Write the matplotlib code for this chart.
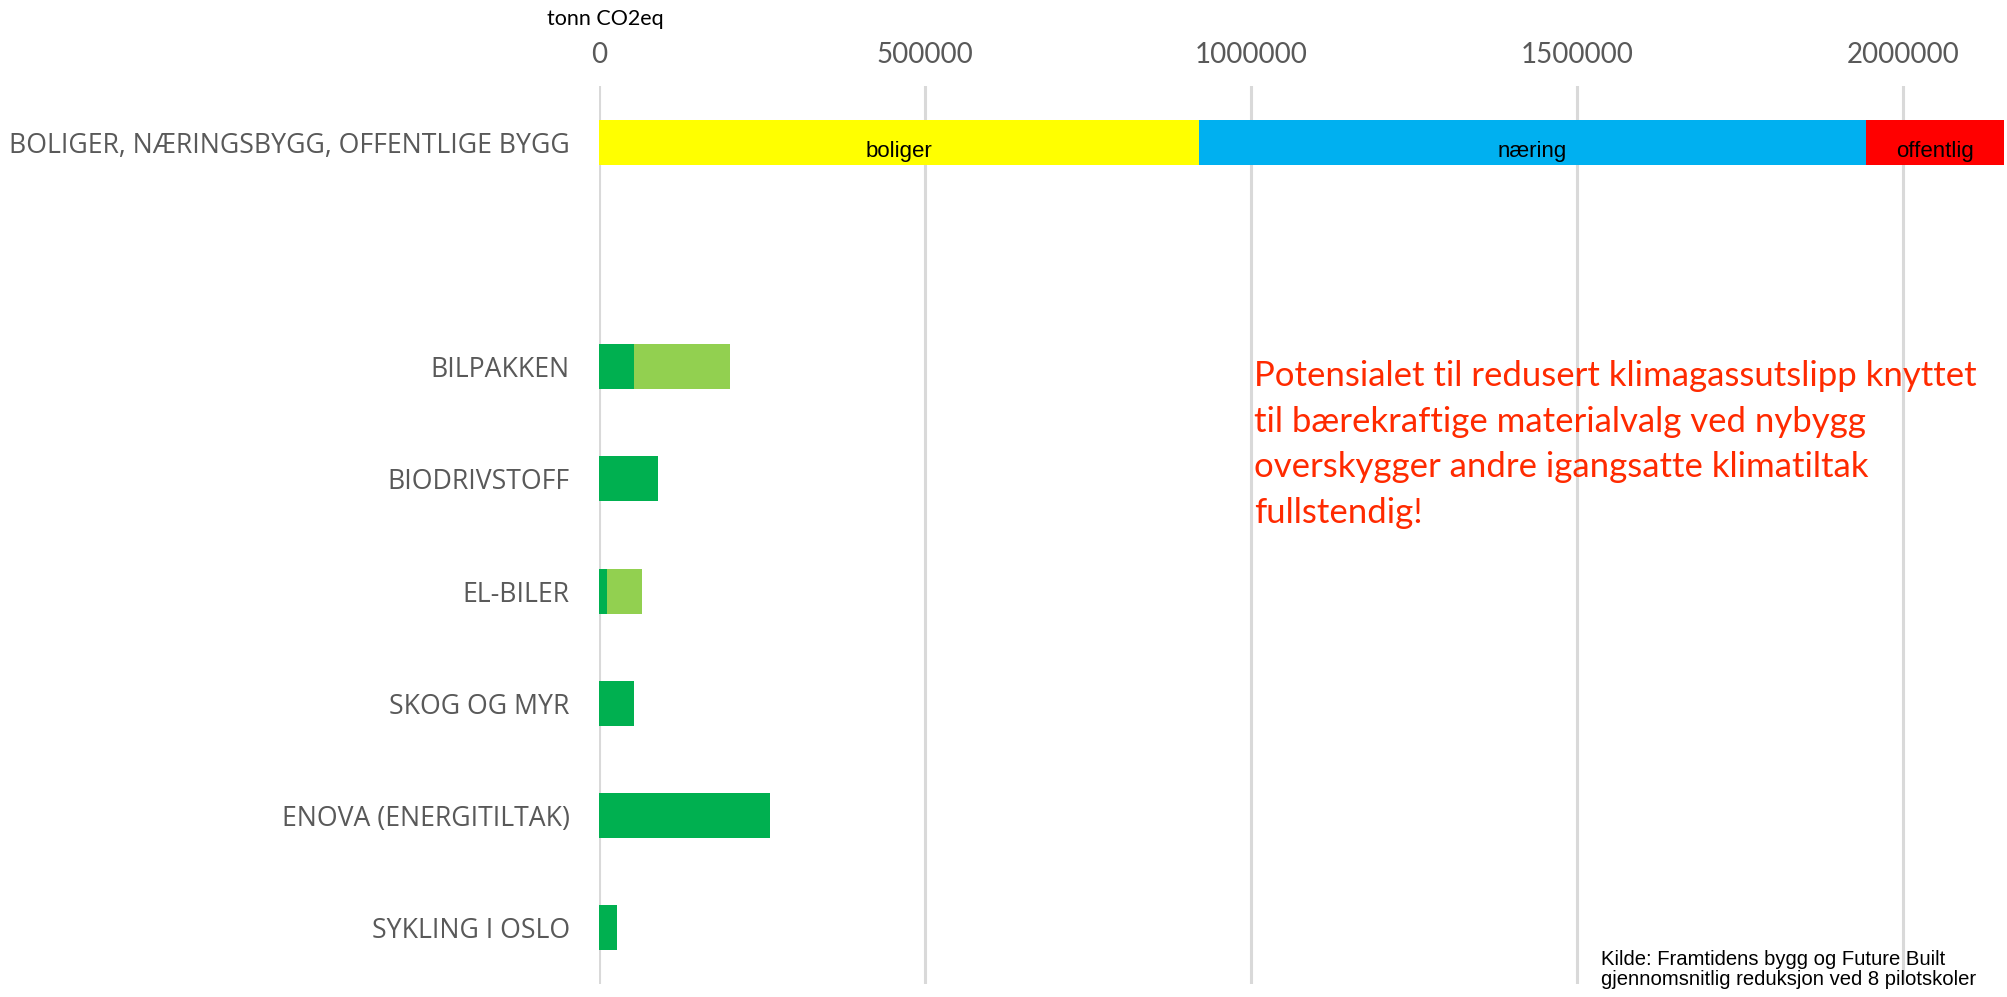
import matplotlib.pyplot as plt

# Data (tonn CO2eq)
building_segments = ["boliger", "næring", "offentlig"]
building_values = [920000, 1023000, 212000]
building_colors = ["#FFFF00", "#00B0F0", "#FF0000"]

measures = ["BILPAKKEN", "BIODRIVSTOFF", "EL-BILER", "SKOG OG MYR",
            "ENOVA (ENERGITILTAK)", "SYKLING I OSLO"]
measure_base = [53000, 91000, 12000, 54000, 263000, 28000]
measure_extra = [148000, 0, 54000, 0, 0, 0]

xticks = [0, 500000, 1000000, 1500000, 2000000]

GRAY = "#595959"
DARK_GREEN = "#00B050"
LIGHT_GREEN = "#92D050"

W, H = 2007, 997
fig = plt.figure(figsize=(W / 100, H / 100), dpi=100)
ax = fig.add_axes([599 / W, 1 - 984 / H, 1 - 599 / W, (984 - 86) / H])

# stacked top bar
left = 0
top_y = 0.5
for name, val, col in zip(building_segments, building_values, building_colors):
    ax.barh(top_y, val, left=left, height=0.4, color=col, zorder=2)
    ax.text(left + val / 2, top_y + 0.08, name, ha="center", va="center",
            fontsize=16, family="Liberation Sans", color="black", zorder=3)
    left += val

# climate measures (one empty slot below the building bar)
ys = [2.5 + i for i in range(len(measures))]
ax.barh(ys, measure_base, height=0.4, color=DARK_GREEN, zorder=2)
ax.barh(ys, measure_extra, left=measure_base, height=0.4, color=LIGHT_GREEN, zorder=2)

ax.set_xlim(0, 2160000)
ax.set_ylim(8, 0)
ax.set_yticks([top_y] + ys)
ax.set_yticklabels(["BOLIGER, NÆRINGSBYGG, OFFENTLIGE BYGG"] + measures,
                   fontsize=19.2, family="Open Sans", color=GRAY)
ax.set_xticks(xticks)
ax.set_xticklabels([str(v) for v in xticks], fontsize=20, family="Lato", color=GRAY)
ax.xaxis.tick_top()
ax.tick_params(axis="both", length=0)
ax.tick_params(axis="x", pad=13)
ax.tick_params(axis="y", pad=21)
for s in ax.spines.values():
    s.set_visible(False)
ax.grid(axis="x", color="#D9D9D9", lw=2.2, zorder=0)
ax.set_axisbelow(True)

fig.text(547 / W, 1 - 19 / H, "tonn CO2eq", ha="left", va="center",
         fontsize=15.5, family="Lato", color="black")

fig.text(1254 / W, 1 - 360 / H,
         "Potensialet til redusert klimagassutslipp knyttet\n"
         "til bærekraftige materialvalg ved nybygg\n"
         "overskygger andre igangsatte klimatiltak\n"
         "fullstendig!",
         ha="left", va="top", fontsize=25, family="Lato",
         color="#FF2A00", linespacing=1.52)

fig.text(1601 / W, 1 - 950 / H,
         "Kilde: Framtidens bygg og Future Built\n"
         "gjennomsnitlig reduksjon ved 8 pilotskoler",
         ha="left", va="top", fontsize=14.6, family="Liberation Sans",
         color="black", linespacing=1.05)

fig.savefig("out.png", dpi=100)
